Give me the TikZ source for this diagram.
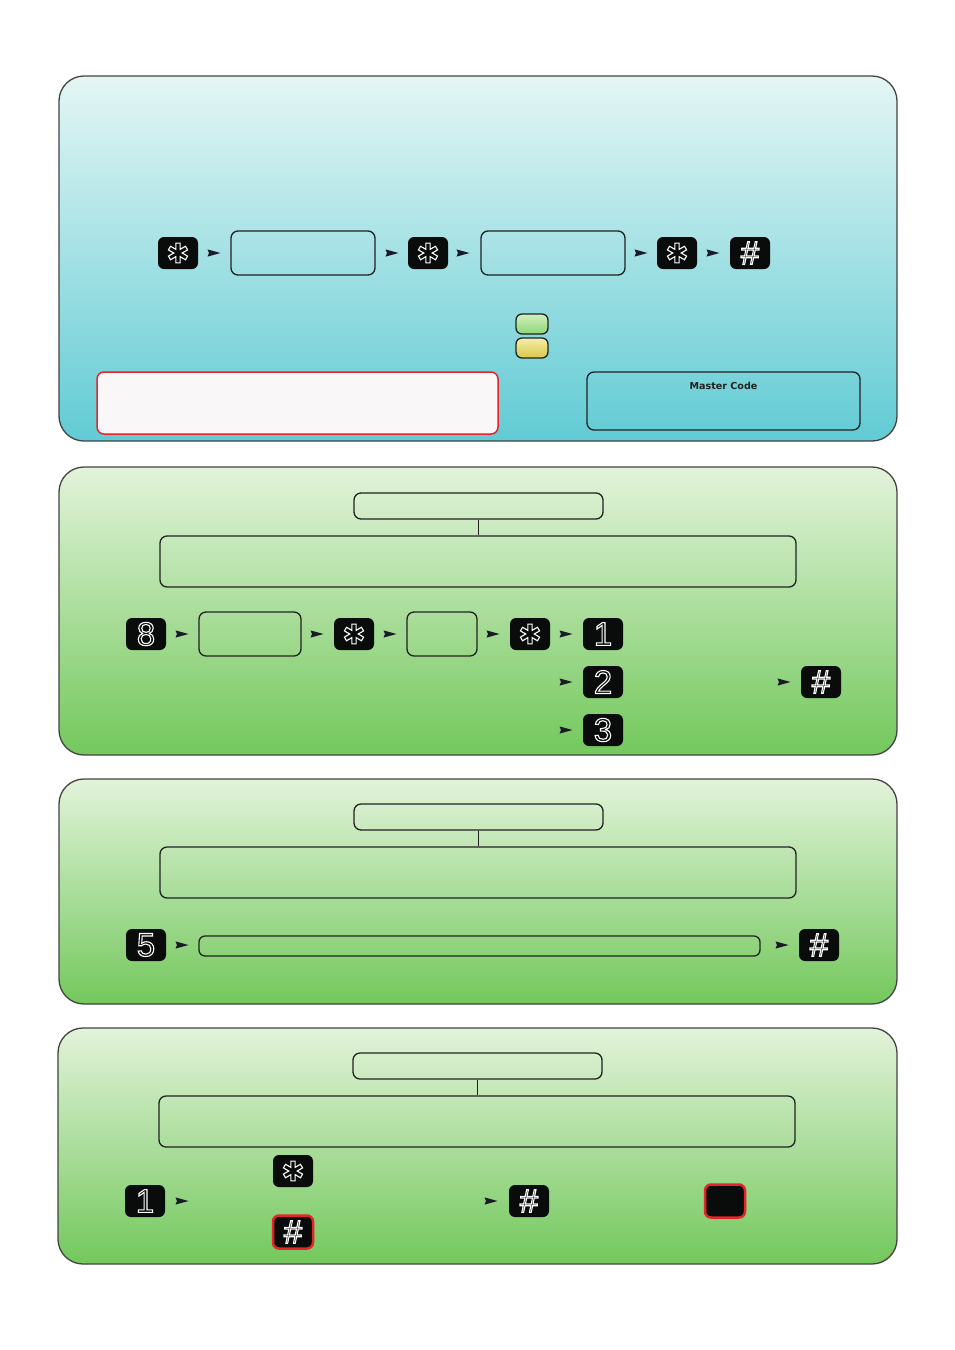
\documentclass[tikz,border=0pt]{standalone}
\usepackage{fontspec}
\setmainfont{Liberation Sans}
\newfontfamily\keyfont{Liberation Sans}
\newfontfamily\symfont{DejaVu Sans}
\newfontfamily\labfont{DejaVu Sans}
\newcommand\outl[1]{\special{pdf:literal direct 1 Tr 1.1 w 1 1 1 RG}#1\special{pdf:literal direct 0 Tr}}
\definecolor{pA1}{RGB}{228,246,244}
\definecolor{pA2}{RGB}{97,203,212}
\definecolor{pB1}{RGB}{226,243,218}
\definecolor{pB2}{RGB}{115,200,92}
\definecolor{keyc}{RGB}{10,11,11}
\definecolor{redc}{RGB}{228,35,42}
\definecolor{linec}{RGB}{34,34,34}
\definecolor{arrc}{RGB}{26,26,40}
\definecolor{pillg1}{RGB}{210,240,192}
\definecolor{pillg2}{RGB}{140,214,118}
\definecolor{pilly1}{RGB}{245,237,170}
\definecolor{pilly2}{RGB}{216,200,72}
\definecolor{paper}{RGB}{249,247,248}
\tikzset{
  panelA/.style={draw=linec!85, line width=1.3pt, rounded corners=25pt, top color=pA1, bottom color=pA2},
  panelB/.style={draw=linec!85, line width=1.3pt, rounded corners=25pt, top color=pB1, bottom color=pB2},
  frame/.style={draw=linec, line width=1.3pt, rounded corners=7pt},
  key/.style={rectangle, rounded corners=6pt, fill=keyc, minimum width=40pt, minimum height=32pt, inner sep=0pt, text=white, font=\keyfont\fontsize{33}{33}\selectfont},
  starkey/.style={key, font=\symfont\fontsize{27}{27}\selectfont},
  redkey/.style={draw=redc, line width=2.5pt, minimum width=40pt, minimum height=33pt},
  pill/.style={rectangle, rounded corners=6pt, draw=linec, line width=1.3pt, minimum width=32pt, minimum height=20pt, inner sep=0pt},
  tri/.pic={\fill[arrc] (-6.5,-3.6) -- (6.5,0) -- (-6.5,3.6) -- (-5,0) -- cycle;}
}
\begin{document}
\begin{tikzpicture}[x=1pt,y=-1pt]
\useasboundingbox[fill=white] (0,0) rectangle (954,1350);

% ---------- Panel 1 ----------
\path[panelA] (59,76) rectangle (897,441);
\node[starkey] (k1) at (178,253) {\outl{✱}};
\pic at (214,253) {tri};
\node[frame, minimum width=144pt, minimum height=44pt] (b1) at (303,253) {};
\pic at (392,253) {tri};
\node[starkey] (k2) at (428,253) {\outl{✱}};
\pic at (463,253) {tri};
\node[frame, minimum width=144pt, minimum height=44pt] (b2) at (553,253) {};
\pic at (641,253) {tri};
\node[starkey] (k3) at (677,253) {\outl{✱}};
\pic at (713,253) {tri};
\node[key] (k4) at (750,253) {\outl{\#}};
\node[pill, top color=pillg1, bottom color=pillg2] (pg) at (532,324) {};
\node[pill, top color=pilly1, bottom color=pilly2] (py) at (532,348) {};
\node[rectangle, rounded corners=7pt, draw=redc, line width=1.5pt, fill=paper, minimum width=401pt, minimum height=62pt] (warn) at (297.5,403) {};
\node[frame, minimum width=273pt, minimum height=58pt] (mc) at (723.5,401) {};
\node[font=\labfont\bfseries\fontsize{9.6}{11}\selectfont, text=linec] (mct) at (723.5,386) {Master Code};

% ---------- Panel 2 ----------
\path[panelB] (59,467) rectangle (897,755);
\node[frame, minimum width=249pt, minimum height=26pt] (t2) at (478.5,506) {};
\node[frame, minimum width=636pt, minimum height=51pt] (m2) at (478,561.5) {};
\draw[linec, line width=1.3pt] (t2.south) -- (t2.south |- m2.north);
\node[key] (d8) at (146,634) {\outl{8}};
\pic at (182,634) {tri};
\node[frame, minimum width=102pt, minimum height=44pt] (b3) at (250,634) {};
\pic at (317,634) {tri};
\node[starkey] (s5) at (354,634) {\outl{✱}};
\pic at (390,634) {tri};
\node[frame, minimum width=70pt, minimum height=44pt] (b4) at (442,634) {};
\pic at (493,634) {tri};
\node[starkey] (s6) at (530,634) {\outl{✱}};
\pic at (566,634) {tri};
\node[key] (d1) at (603,634) {\outl{1}};
\pic at (566,682) {tri};
\node[key] (d2) at (603,682) {\outl{2}};
\pic at (784,682) {tri};
\node[key] (h2) at (821,682) {\outl{\#}};
\pic at (566,730) {tri};
\node[key] (d3) at (603,730) {\outl{3}};

% ---------- Panel 3 ----------
\path[panelB] (59,779) rectangle (897,1004);
\node[frame, minimum width=249pt, minimum height=26pt] (t3) at (478.5,817) {};
\node[frame, minimum width=636pt, minimum height=51pt] (m3) at (478,872.5) {};
\draw[linec, line width=1.3pt] (t3.south) -- (t3.south |- m3.north);
\node[key] (d5) at (146,945) {\outl{5}};
\pic at (182,945) {tri};
\node[frame, rounded corners=6pt, minimum width=561pt, minimum height=20pt] (lb) at (479.5,946) {};
\pic at (782,945) {tri};
\node[key] (h3) at (819,945) {\outl{\#}};

% ---------- Panel 4 ----------
\path[panelB] (58,1028) rectangle (897,1264);
\node[frame, minimum width=249pt, minimum height=26pt] (t4) at (477.5,1066) {};
\node[frame, minimum width=636pt, minimum height=51pt] (m4) at (477,1121.5) {};
\draw[linec, line width=1.3pt] (t4.south) -- (t4.south |- m4.north);
\node[starkey] (s7) at (293,1171) {\outl{✱}};
\node[key] (e1) at (145,1201) {\outl{1}};
\pic at (182,1201) {tri};
\node[key, redkey] (h4) at (293,1232) {\outl{\#}};
\pic at (491,1201) {tri};
\node[key] (h5) at (529,1201) {\outl{\#}};
\node[key, redkey] (bk) at (725,1201) {};
\end{tikzpicture}
\end{document}
